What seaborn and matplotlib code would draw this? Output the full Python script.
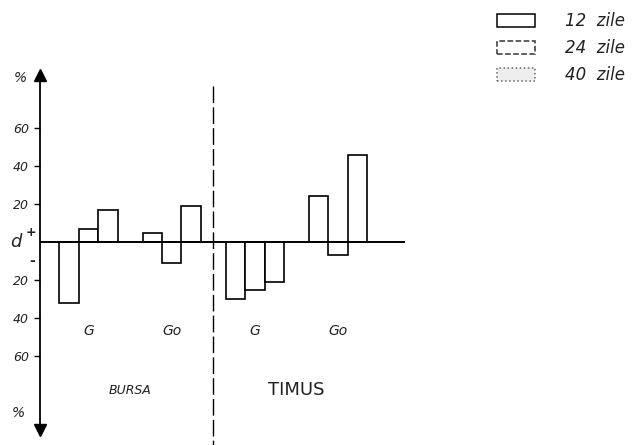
import matplotlib
matplotlib.use("Agg")
import matplotlib.pyplot as plt
import seaborn as sns
import pandas as pd
from matplotlib.patches import Patch

# ---- data ----
categories = ["BURSA G", "BURSA Go", "TIMUS G", "TIMUS Go"]
organ_labels = ["G", "Go", "G", "Go"]
tissues = ["BURSA", "TIMUS"]
series = ["12  zile", "24  zile", "40  zile"]
zile_12 = [-32, 5, -30, 24]
zile_24 = [7, -11, -25, -7]
zile_40 = [17, 19, -21, 46]
ytick_values = [60, 40, 20, -20, -40, -60]
ytick_labels = ["60", "40", "20", "20", "40", "60"]

df = pd.DataFrame({
    "cat": categories * 3,
    "zile": [s for s in series for _ in categories],
    "val": zile_12 + zile_24 + zile_40,
})

sns.set_theme(style="white")
plt.rcParams['font.family'] = ['DejaVu Sans']

W, H = 632, 445
fig = plt.figure(figsize=(W / 100, H / 100), dpi=100)
fig.patch.set_facecolor("white")
ax = fig.add_axes([40 / W, 15 / H, 365 / W, 355 / H])
ax.set_facecolor("white")

sns.barplot(data=df, x="cat", y="val", hue="zile", order=categories,
            hue_order=series, palette=["white"] * 3, saturation=1,
            edgecolor="black", linewidth=1.2, width=0.7, legend=False,
            errorbar=None, ax=ax)

ax.set_xlim(-0.582, 3.805)
ax.set_ylim(-98.9, 87.9)

for s in ["top", "right", "bottom"]:
    ax.spines[s].set_visible(False)
ax.spines["left"].set_color("black")
ax.spines["left"].set_linewidth(1.3)
ax.set_xticks([])
ax.set_xlabel("")
ax.set_ylabel("")
ax.set_yticks(ytick_values)
ax.set_yticklabels(ytick_labels, fontstyle="italic", fontsize=9, color="#222222")
ax.tick_params(axis="y", direction="out", length=4, width=1.0, color="black", pad=4, left=True)

# zero line
ax.axhline(0, color="black", lw=1.4, zorder=4)

# arrows on the vertical axis
ax.plot(0, 1, marker="^", ms=9, color="black", transform=ax.transAxes, clip_on=False, zorder=5)
ax.plot(0, 0, marker="v", ms=9, color="black", transform=ax.transAxes, clip_on=False, zorder=5)

# divider between BURSA and TIMUS
ax.plot([1.5, 1.5], [82, -107], color="black", lw=1.0,
        linestyle=(0, (12, 3)), clip_on=False, zorder=3)

# organ labels
for i, lab in enumerate(organ_labels):
    ax.text(i, -47, lab, ha="center", va="center", fontstyle="italic", fontsize=10, color="#222222")

# tissue labels
ax.text(0.5, -78, tissues[0], ha="center", va="center", fontstyle="italic", fontsize=9, color="#222222")
ax.text(2.5, -78, tissues[1], ha="center", va="center", fontsize=13, color="#222222")

# axis annotations
def ftext(x, y, s, **kw):
    fig.text(x / W, 1 - y / H, s, ha="center", va="center", **kw)

ftext(20, 78, "%", fontsize=10, fontstyle="italic", color="#222222")
ftext(18, 413, "%", fontsize=10, fontstyle="italic", color="#222222")
ftext(16, 242, "d", fontsize=13, fontstyle="italic", color="#222222")
ftext(31, 232, "+", fontsize=9, fontweight="bold", color="#222222")
ftext(32, 261, "-", fontsize=10, fontweight="bold", color="#222222")

# legend
handles = [
    Patch(facecolor="white", edgecolor="black", linewidth=1.1),
    Patch(facecolor="white", edgecolor="#333333", linewidth=1.1, linestyle="--"),
    Patch(facecolor="#eeeeee", edgecolor="#666666", linewidth=1.1, linestyle=":"),
]
leg = fig.legend(handles, series, loc="upper left", bbox_to_anchor=(497 / W, 1 - 12 / H),
                 frameon=False, fontsize=12, handlelength=2.3, handleheight=0.85,
                 handletextpad=1.8, labelspacing=0.55, borderpad=0, borderaxespad=0)
for t in leg.get_texts():
    t.set_fontstyle("italic")
    t.set_color("#222222")

fig.savefig("out.png", dpi=100, facecolor="white")
